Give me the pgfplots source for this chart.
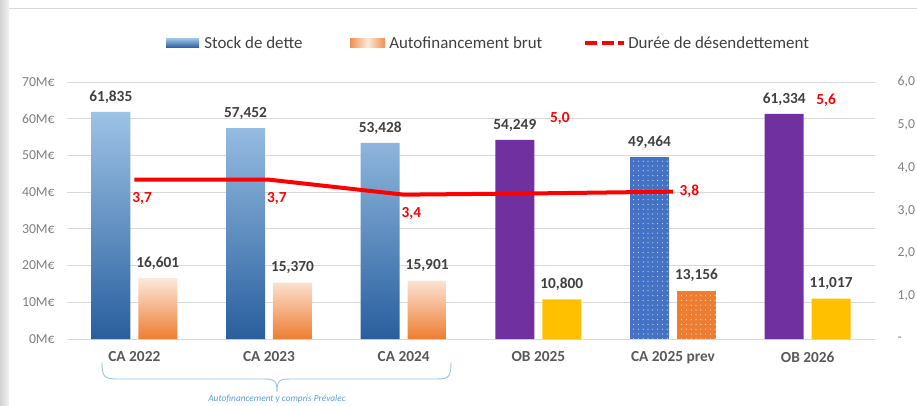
\documentclass[border=0pt]{standalone}
\usepackage{fontspec}
\setmainfont{Carlito}
\usepackage{pgfplots}
\pgfplotsset{compat=1.18}
\usepackage{pgfplotstable}
\usetikzlibrary{patterns.meta}

\definecolor{stockTop}{RGB}{157,195,230}
\definecolor{stockBot}{RGB}{41,95,158}
\definecolor{autoTop}{RGB}{252,232,218}
\definecolor{autoBot}{RGB}{237,125,49}
\definecolor{obPurple}{RGB}{112,48,160}
\definecolor{obGold}{RGB}{255,192,0}
\definecolor{prevBlue}{RGB}{68,114,196}
\definecolor{prevOrange}{RGB}{237,125,49}
\definecolor{gridgray}{RGB}{217,217,217}
\definecolor{ticktxt}{RGB}{127,127,127}
\definecolor{valtxt}{RGB}{64,64,64}
\definecolor{cattxt}{RGB}{89,89,89}
\definecolor{bracketblue}{RGB}{157,195,230}
\definecolor{notetxt}{RGB}{91,155,213}
\definecolor{durred}{RGB}{255,0,0}

\pgfplotstableread{
x stock auto
0 61.835 16.601
1 57.452 15.370
2 53.428 15.901
}\caData
\pgfplotstableread{
x stock auto
3 54.249 10.800
5 61.334 11.017
}\obData
\pgfplotstableread{
x stock auto
4 49.464 13.156
}\prevData
\pgfplotstableread{
x d
0 3.72
1 3.72
2 3.37
3 3.40
4 3.44
}\lineData
\pgfplotstableread{
x d lab
0 3.72 3,7
1 3.72 3,7
2 3.37 3,4
}\labA
\pgfplotstableread{
x d lab
4 3.44 3,8
}\labB
\pgfplotstableread{
x d lab
3 5.0 5,0
}\labC
\pgfplotstableread{
x d lab
5 5.6 5,6
}\labD

\begin{document}
\begin{tikzpicture}
\useasboundingbox (0,0) rectangle (687.75pt,-304.5pt);
\begin{scope}[x=0.75pt,y=-0.75pt]
  \shade[left color=gray!35, right color=gray!10] (0,0) rectangle (9,406);
  \draw[gridgray, line width=0.75pt] (9,9) -- (917,9);
  % legend
  \shade[top color=stockTop, bottom color=stockBot] (166,38.5) rectangle (199,47.5);
  \node[anchor=west, inner sep=0pt, text=valtxt, font=\fontsize{12.7}{14}\selectfont] at (204,43) {Stock de dette};
  \shade[left color=autoBot!85, right color=autoBot!85, middle color=autoTop] (350,38.5) rectangle (385,47.5);
  \node[anchor=west, inner sep=0pt, text=valtxt, font=\fontsize{12.7}{14}\selectfont] at (389,43) {Autofinancement brut};
  \draw[durred, line width=3.2pt, dash pattern=on 9pt off 3.5pt] (585,43) -- (624,43);
  \node[anchor=west, inner sep=0pt, text=valtxt, font=\fontsize{12.7}{14}\selectfont] at (628,43) {Durée de désendettement};
  % bracket
  \draw[bracketblue, line width=0.7pt] (102,362) .. controls (102,377) and (104,379) .. (118,379) -- (264,379)
     .. controls (275,379) and (277,381) .. (277,392)
     .. controls (277,381) and (279,379) .. (290,379) -- (436,379)
     .. controls (449,379) and (451,377) .. (451,362);
  \node[text=notetxt, font=\itshape\fontsize{7}{8}\selectfont, inner sep=0pt] at (277,399.5) {Autofinancement y compris Prévalec};
\end{scope}

\begin{axis}[
  at={(50.25pt,-254.25pt)}, anchor=south west,
  scale only axis, width=606pt, height=192.75pt,
  xmin=-0.5, xmax=5.5, ymin=0, ymax=70,
  ybar, bar width=29.25pt,
  xtick={0,1,2,3,4,5},
  xticklabels={CA 2022, CA 2023, CA 2024, OB 2025, CA 2025 prev, OB 2026},
  ytick={0,10,20,30,40,50,60,70},
  yticklabels={0M€,10M€,20M€,30M€,40M€,50M€,60M€,70M€},
  ymajorgrids, grid style={gridgray, line width=0.75pt},
  axis x line*=bottom, axis y line*=left,
  x axis line style={gridgray, line width=0.75pt, -},
  y axis line style={draw=none},
  major tick length=0pt,
  xticklabel style={font=\bfseries\fontsize{11.5}{13}\selectfont, text=cattxt, yshift=-6pt},
  yticklabel style={font=\fontsize{10.3}{11}\selectfont, text=ticktxt, xshift=-5.7pt},
  clip=false,
  /pgf/number format/assume math mode=true,
  nodes near coords={\pgfmathprintnumber[fixed,fixed zerofill,precision=3,use comma]{\pgfplotspointmeta}},
  every node near coord/.append style={font=\bfseries\fontsize{11.5}{13}\selectfont, text=valtxt, yshift=3pt},
]
\addplot[draw=none, bar shift=-17.6pt, top color=stockTop, bottom color=stockBot] table[x=x,y=stock]{\caData};
\addplot[draw=none, bar shift=17.6pt, top color=autoTop, bottom color=autoBot] table[x=x,y=auto]{\caData};
\addplot[draw=none, bar shift=-17.6pt, fill=obPurple] table[x=x,y=stock]{\obData};
\addplot[draw=none, bar shift=17.6pt, fill=obGold] table[x=x,y=auto]{\obData};
\addplot[draw=none, bar shift=-17.6pt, fill=prevBlue, postaction={pattern={Dots[distance=3.6pt,radius=0.45pt]}, pattern color=white!75!prevBlue}] table[x=x,y=stock]{\prevData};
\addplot[draw=none, bar shift=17.6pt, fill=prevOrange, postaction={pattern={Dots[distance=3.6pt,radius=0.45pt]}, pattern color=white!70!prevOrange}] table[x=x,y=auto]{\prevData};
\end{axis}

\begin{axis}[
  at={(50.25pt,-254.25pt)}, anchor=south west,
  scale only axis, width=606pt, height=192.75pt,
  xmin=-0.5, xmax=5.5, ymin=0, ymax=6,
  axis y line*=right, axis x line=none,
  y axis line style={draw=none},
  ytick={0,1,2,3,4,5,6},
  yticklabels={-,{1,0},{2,0},{3,0},{4,0},{5,0},{6,0}},
  major tick length=0pt,
  yticklabel style={font=\fontsize{10.3}{11}\selectfont, text=ticktxt, xshift=13.5pt, anchor=west},
  clip=false,
]
\addplot[durred, line width=3pt, mark=none, line join=round] table[x=x,y=d]{\lineData};
\addplot[draw=none, mark=none, nodes near coords, point meta=explicit symbolic,
  every node near coord/.append style={anchor=west, text=durred, font=\bfseries\fontsize{11.5}{13}\selectfont, xshift=-5pt, yshift=-14pt}]
  table[x=x,y=d,meta=lab]{\labA};
\addplot[draw=none, mark=none, nodes near coords, point meta=explicit symbolic,
  every node near coord/.append style={anchor=west, text=durred, font=\bfseries\fontsize{11.5}{13}\selectfont, xshift=1.5pt, yshift=0pt}]
  table[x=x,y=d,meta=lab]{\labB};
\addplot[draw=none, mark=none, nodes near coords, point meta=explicit symbolic,
  every node near coord/.append style={anchor=west, text=durred, font=\bfseries\fontsize{11.5}{13}\selectfont, xshift=5.3pt, yshift=5pt}]
  table[x=x,y=d,meta=lab]{\labC};
\addplot[draw=none, mark=none, nodes near coords, point meta=explicit symbolic,
  every node near coord/.append style={anchor=west, text=durred, font=\bfseries\fontsize{11.5}{13}\selectfont, xshift=3pt, yshift=-1pt}]
  table[x=x,y=d,meta=lab]{\labD};
\end{axis}
\end{tikzpicture}
\end{document}
